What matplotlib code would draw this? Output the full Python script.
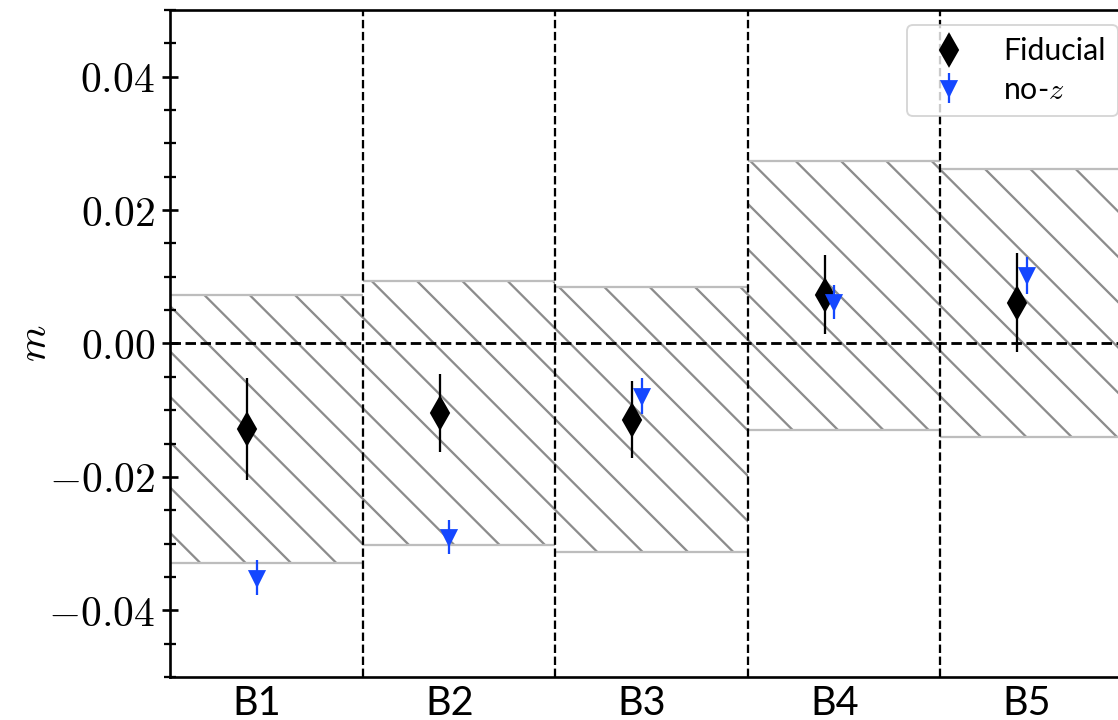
import numpy as np
import matplotlib
matplotlib.use("Agg")
import matplotlib.pyplot as plt
from matplotlib.ticker import MultipleLocator, FuncFormatter

# tomographic bins and the multiplicative shear bias per bin
bins = ["B1", "B2", "B3", "B4", "B5"]
m_fid = [-0.0128, -0.0104, -0.0114, 0.0073, 0.0061]
m_fid_err = [0.0076, 0.0058, 0.0058, 0.0059, 0.0074]
m_noz = [-0.0351, -0.0290, -0.0079, 0.0062, 0.0102]
m_noz_err = [0.0026, 0.0026, 0.0027, 0.0026, 0.0028]
# prior range on m in each bin (hatched)
prior_lo = [-0.0329, -0.0302, -0.0313, -0.0129, -0.0140]
prior_hi = [0.0072, 0.0094, 0.0085, 0.0273, 0.0262]

plt.rcParams["mathtext.fontset"] = "cm"
plt.rcParams["font.family"] = ["Lato", "DejaVu Sans"]
plt.rcParams["hatch.linewidth"] = 0.6

dpi = 272
fig = plt.figure(figsize=(1118 / dpi + 1e-4, 720 / dpi + 1e-4), dpi=dpi)
ax = fig.add_axes([170 / 1118, 43 / 720, 963 / 1118, 667 / 720])

idx = np.arange(len(bins))

# hatched prior bands, one per bin
for i in idx:
    ax.fill_between([i, i + 1], prior_lo[i], prior_hi[i], facecolor="none",
                    edgecolor="#8c8c8c", hatch="\\\\", linewidth=0, zorder=1)
    ax.hlines([prior_lo[i], prior_hi[i]], i, i + 1, color="#bdbdbd",
              linewidth=0.6, zorder=1.5)

for i in idx[1:]:
    ax.axvline(i, color="k", ls="--", lw=0.6, zorder=2)
ax.axhline(0, color="k", ls="--", lw=0.75, zorder=2)

ax.errorbar(idx + 0.40, m_fid, yerr=m_fid_err, fmt="d", color="k", ms=5.3,
            elinewidth=0.6, capsize=0, label="Fiducial", zorder=4)
ax.errorbar(idx + 0.45, m_noz, yerr=m_noz_err, fmt="v", color="#1447ff", ms=3,
            elinewidth=0.6, capsize=0, label="no-$z$", zorder=5)

ax.set_xlim(0, len(bins))
ax.set_ylim(-0.05, 0.05)
ax.set_xticks(idx + 0.45)
ax.set_xticklabels(bins)
ax.tick_params(axis="x", length=0, pad=2, labelsize=10.5)

ax.yaxis.set_major_locator(MultipleLocator(0.02))
ax.yaxis.set_minor_locator(MultipleLocator(0.005))
ax.yaxis.set_major_formatter(FuncFormatter(lambda v, p: r"$%.2f$" % v))
ax.tick_params(axis="y", which="major", direction="inout", length=4, width=0.7,
               labelsize=11, pad=2)
ax.tick_params(axis="y", which="minor", direction="inout", length=3, width=0.6)
ax.set_ylabel("$m$", fontsize=11, labelpad=-1.4)

for s in ax.spines.values():
    s.set_linewidth(0.7)

leg = ax.legend(loc="upper right", fontsize=8.0, labelspacing=0.35,
                borderpad=0.4)
leg.get_frame().set_linewidth(0.5)

fig.savefig("out.png", dpi=dpi)
